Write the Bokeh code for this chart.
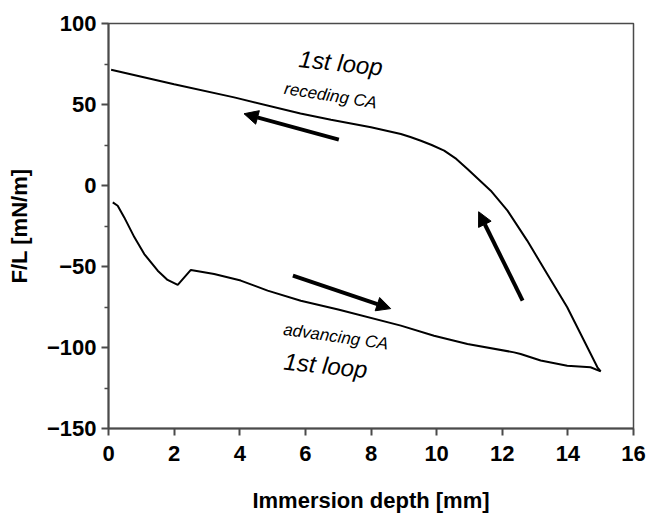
from bokeh.plotting import figure
from bokeh.models import Range1d, Label, Arrow, NormalHead, FixedTicker
from bokeh.embed import file_html
from bokeh.resources import INLINE
import math

# Receding (upper) branch, from deepest immersion back to 0
rec_x = [15.0, 14.9, 14.49, 13.98, 13.37, 12.76, 12.16, 11.65, 10.94, 10.6, 10.23, 9.85, 9.52, 9.2, 8.91, 8.0, 6.78, 5.85, 3.83, 2.0, 0.08]
rec_y = [-114.7, -112.2, -95.7, -75.2, -54.6, -34.0, -15.5, -3.2, 10.2, 16.4, 21.5, 25.0, 27.6, 29.9, 31.8, 36.0, 40.6, 44.4, 54.4, 62.5, 71.4]

# Advancing (lower) branch
adv_x = [0.13, 0.28, 0.48, 0.79, 1.09, 1.5, 1.8, 2.11, 2.51, 3.22, 4.03, 4.85, 5.86, 7.0, 8.91, 9.92, 10.94, 12.36, 12.56, 13.17, 13.98, 14.69, 15.0]
adv_y = [-10.4, -12.5, -19.7, -32.0, -42.3, -52.6, -58.3, -61.4, -52.1, -54.6, -58.7, -64.9, -71.1, -76.5, -86.5, -92.7, -97.8, -103.0, -104.0, -108.0, -111.2, -112.2, -114.7]

x_ticks = [0, 2, 4, 6, 8, 10, 12, 14, 16]
y_ticks = [-150, -100, -50, 0, 50, 100]
y_minor_ticks = [-125, -75, -25, 25, 75]

# Annotation texts and arrows (data coordinates)
texts = ["1st loop", "receding CA", "advancing CA", "1st loop"]
text_x = [7.08, 6.77, 6.93, 6.62]
text_y = [75.7, 55.4, -93.3, -111.0]
text_angle_deg = [-6, -9, -8, -6]
text_size = ["24px", "17px", "17px", "24px"]
text_style = ["italic", "italic", "italic", "italic"]

arrow_start_x = [7.02, 5.62, 12.62]
arrow_start_y = [28.3, -55.6, -71.0]
arrow_end_x = [4.13, 8.60, 11.28]
arrow_end_y = [44.3, -76.0, -16.2]

FONT = "Liberation Sans"
AX = "#4a4a4a"

p = figure(width=648, height=515, output_backend="svg", toolbar_location=None,
           x_range=Range1d(0, 16), y_range=Range1d(-150, 100))
p.min_border_left = 108
p.min_border_right = 15
p.min_border_top = 23
p.min_border_bottom = 87
p.background_fill_color = "white"
p.border_fill_color = "white"
p.outline_line_color = AX
p.outline_line_width = 1.5
p.grid.visible = False

p.line(rec_x, rec_y, line_color="black", line_width=2)
p.line(adv_x, adv_y, line_color="black", line_width=2)

for i in range(len(texts)):
    p.add_layout(Label(x=text_x[i], y=text_y[i], text=texts[i],
                       angle=math.radians(text_angle_deg[i]),
                       text_align="center", text_baseline="middle",
                       text_font=FONT, text_font_size=text_size[i],
                       text_font_style=text_style[i], text_color="black"))

for i in range(len(arrow_start_x)):
    p.add_layout(Arrow(x_start=arrow_start_x[i], y_start=arrow_start_y[i],
                       x_end=arrow_end_x[i], y_end=arrow_end_y[i],
                       line_color="black", line_width=4,
                       end=NormalHead(size=14, fill_color="black", line_color="black", line_width=1)))

xa = p.xaxis[0]
xa.ticker = FixedTicker(ticks=x_ticks)
xa.axis_label = "Immersion depth [mm]"
ya = p.yaxis[0]
ya.ticker = FixedTicker(ticks=y_ticks, minor_ticks=y_minor_ticks)
ya.axis_label = "F/L [mN/m]"

for ax in (xa, ya):
    ax.axis_line_color = AX
    ax.axis_line_width = 2
    ax.major_tick_line_color = AX
    ax.major_tick_line_width = 2
    ax.major_tick_in = 0
    ax.major_tick_out = 7
    ax.minor_tick_line_color = AX
    ax.minor_tick_line_width = 1.5
    ax.minor_tick_in = 0
    ax.minor_tick_out = 4
    ax.major_label_text_font = FONT
    ax.major_label_text_font_size = "22px"
    ax.major_label_text_font_style = "bold"
    ax.major_label_text_color = "black"
    ax.axis_label_text_font = FONT
    ax.axis_label_text_font_size = "22px"
    ax.axis_label_text_font_style = "bold"
    ax.axis_label_text_color = "black"

xa.minor_tick_line_color = None
xa.major_label_standoff = 10
xa.axis_label_standoff = 24
ya.major_label_standoff = 5
ya.axis_label_standoff = 12

open("out.html", "w").write(file_html(p, INLINE))
